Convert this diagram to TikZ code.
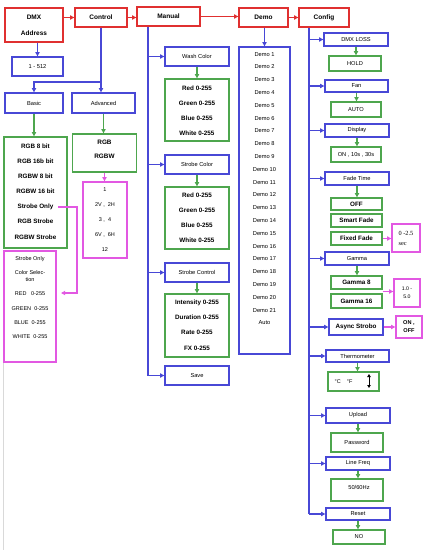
\documentclass[tikz,border=0pt]{standalone}
\usepackage{fontspec}
\setmainfont{Liberation Sans}
\newfontfamily\serifx{Liberation Serif}
\usetikzlibrary{arrows.meta,calc}
\definecolor{cred}{RGB}{224,48,48}
\definecolor{cblue}{RGB}{72,72,214}
\definecolor{cgreen}{RGB}{78,166,78}
\definecolor{cmag}{RGB}{226,88,226}
\newcommand\fs[2]{\fontsize{#1}{#2}\selectfont}
\newcommand\B[6]{\node[#1,minimum width=#5pt,minimum height=#6pt] (#2) at (#3,#4)}
\begin{document}
\begin{tikzpicture}[x=1pt,y=-1pt,
  bx/.style={draw, rectangle, inner sep=0pt, line width=1.35pt, align=center, text=black, font=\fs{5.7}{7}},
  rbox/.style={bx, draw=cred, font=\bfseries\fs{6.5}{16}},
  bbox/.style={bx, draw=cblue},
  gbox/.style={bx, draw=cgreen},
  mbox/.style={bx, draw=cmag},
  boldg/.style={font=\bfseries\fs{6.3}{15.1}},
  txt/.style={inner sep=0pt, align=center, text=black},
  tip/.style={-{Triangle[length=4.2pt,width=4.2pt]}},
  ra/.style={draw=cred, line width=1.3pt, tip},
  ba/.style={draw=cblue, line width=1.3pt, tip},
  bl/.style={draw=cblue, line width=1.3pt},
  ga/.style={draw=cgreen, line width=1.3pt, tip},
  ma/.style={draw=cmag, line width=1.3pt, tip}
]
\useasboundingbox (0,0) rectangle (425,550);
\draw[gray!30, line width=0.5pt] (3,258) -- (3,550);

% top row
\B{rbox}{dmx}{34}{25}{58}{34}{DMX\\Address};
\B{rbox}{control}{101}{17.5}{52}{19}{Control};
\B{rbox}{manual}{168.5}{16.5}{63}{19}{Manual};
\B{rbox}{demo}{263.5}{17.5}{49}{19}{Demo};
\B{rbox}{config}{324}{17.5}{50}{19}{Config};
\draw[ra] (dmx.east |- control.west) -- (control.west);
\draw[ra] (control.east) -- (control.east -| manual.west);
\draw[ra] (manual.east) -- (manual.east -| demo.west);
\draw[ra] (demo.east) -- (config.west);

% DMX / Control branch
\B{bbox}{r512}{37.5}{66.5}{51}{19}{1 - 512};
\draw[ba] (r512.north |- dmx.south) -- (r512.north);
\B{bbox}{basic}{34}{103}{58}{20}{Basic};
\B{bbox}{adv}{103.5}{103}{63}{20}{Advanced};
\coordinate (cj) at (101,82);
\draw[bl] (control.south) -- (cj);
\draw[ba] (cj) -| (basic.north);
\draw[ba] (cj) -- (cj |- adv.north);

\B{gbox}{basicg}{35.5}{192.5}{63}{111}{};
\node[txt, boldg] (basictxt) at (35.5,191.5) {RGB 8 bit\\RGB 16b bit\\RGBW 8 bit\\RGBW 16 bit\\Strobe Only\\RGB Strobe\\RGBW Strobe};
\draw[ga] (basic.south) -- (basic.south |- basicg.north);
\B{gbox}{advg}{104.5}{153}{64}{38}{};
\node[txt, font=\bfseries\fs{6.4}{14.5}] (advtxt) at (104.5,149.5) {RGB\\RGBW};
\draw[ga] (adv.south) -- (adv.south |- advg.north);
\B{mbox}{mag1}{105}{220}{44}{76}{};
\node[txt, font=\fs{5.5}{15}] (mag1txt) at (105,220) {1\\2V ,\ \ 2H\\3 ,\ \ 4\\6V ,\ \ 6H\\12};
\draw[ma] (advg.south) -- (advg.south |- mag1.north);

\B{mbox}{mag2}{30}{306.5}{52}{111}{};
\node[txt, font=\fs{5.5}{7}] (mag2txt) at (30,297.5) {Strobe Only\\[7.6pt]Color Selec-\\tion\\[7.2pt]RED\ \ \ 0-255\\[7.2pt]GREEN\ \ 0-255\\[7.6pt]BLUE\ \ 0-255\\[7.2pt]WHITE\ \ 0-255};
\coordinate (so) at (58,207);
\coordinate (sotip) at (61,293);
\draw[ma] (so) -- (77,207) |- (sotip);

% Manual branch
\coordinate (mx) at (148,0);
\B{bbox}{wash}{197}{56.5}{64}{19}{Wash Color};
\B{bbox}{strc}{197}{164.5}{64}{19}{Strobe Color};
\B{bbox}{strctl}{197}{272.5}{64}{19}{Strobe Control};
\B{bbox}{save}{197}{375.5}{64}{19}{Save};
\draw[bl] (mx |- manual.south) -- (mx |- save.west);
\draw[ba] (mx |- wash.west) -- (wash.west);
\draw[ba] (mx |- strc.west) -- (strc.west);
\draw[ba] (mx |- strctl.west) -- (strctl.west);
\draw[ba] (mx |- save.west) -- (save.west);
\B{gbox}{wg1}{197}{110}{64}{62}{};
\node[txt, font=\bfseries\fs{6.3}{15}] (wg1txt) at (197,110.5) {Red 0-255\\Green 0-255\\Blue 0-255\\White 0-255};
\B{gbox}{wg2}{197}{218}{64}{62}{};
\node[txt, font=\bfseries\fs{6.3}{15}] (wg2txt) at (197,217.5) {Red 0-255\\Green 0-255\\Blue 0-255\\White 0-255};
\B{gbox}{wg3}{197}{325.5}{64}{63}{};
\node[txt, font=\bfseries\fs{6.3}{15.3}] (wg3txt) at (197,325) {Intensity 0-255\\Duration 0-255\\Rate 0-255\\FX 0-255};
\draw[ga] (wash.south) -- (wg1.north);
\draw[ga] (strc.south) -- (wg2.north);
\draw[ga] (strctl.south) -- (wg3.north);

% Demo branch
\B{bbox}{demolist}{264.5}{200.5}{51}{307}{};
\node[txt, font=\fs{5.7}{12.8}] (demotxt) at (264.5,188.5) {Demo 1\\Demo 2\\Demo 3\\Demo 4\\Demo 5\\Demo 6\\Demo 7\\Demo 8\\Demo 9\\Demo 10\\Demo 11\\Demo 12\\Demo 13\\Demo 14\\Demo 15\\Demo 16\\Demo 17\\Demo 18\\Demo 19\\Demo 20\\Demo 21\\Auto};
\draw[ba] (demolist.north |- demo.south) -- (demolist.north);

% Config branch
\coordinate (cx) at (309,0);
\B{bbox}{dmxloss}{356}{39.5}{64}{13}{DMX LOSS};
\B{bbox}{fan}{356.5}{86}{63}{12}{Fan};
\B{bbox}{display}{357}{130.5}{64}{13}{Display};
\B{bbox}{fade}{357}{178.5}{64}{13}{Fade Time};
\B{bbox}{gamma}{357}{258.5}{64}{13}{Gamma};
\node[bx, draw=cblue, minimum width=54pt, minimum height=16pt, font=\bfseries\fs{6.3}{7}] (async) at (356,327) {Async Strobo};
\B{bbox}{thermo}{357.5}{356}{63}{12}{Thermometer};
\B{bbox}{upload}{358}{415.5}{64}{15}{Upload};
\B{bbox}{linefreq}{358}{463.5}{64}{13}{Line Freq};
\B{bbox}{reset}{358}{514}{64}{12}{Reset};
\draw[bl] (cx |- config.south) -- (cx |- reset.west);
\foreach \n in {dmxloss,fan,display,fade,gamma,async,thermo,upload,linefreq,reset}
  \draw[ba] (cx |- \n.west) -- (\n.west);

\B{gbox}{hold}{355}{63.5}{52}{15}{HOLD};
\B{gbox}{auto}{356}{109.5}{50}{15}{AUTO};
\B{gbox}{onsec}{356}{154.5}{50}{15}{ON , 10s , 30s};
\node[bx, draw=cgreen, minimum width=51pt, minimum height=12pt, font=\bfseries\fs{6.3}{7}] (off) at (356.5,204) {OFF};
\node[bx, draw=cgreen, minimum width=51pt, minimum height=13pt, font=\bfseries\fs{6.3}{7}] (smart) at (356.5,220.5) {Smart Fade};
\node[bx, draw=cgreen, minimum width=51pt, minimum height=13pt, font=\bfseries\fs{6.3}{7}] (fixed) at (356.5,238.5) {Fixed Fade};
\node[bx, draw=cgreen, minimum width=51pt, minimum height=13pt, font=\bfseries\fs{6.3}{7}] (g8) at (356.5,282.5) {Gamma 8};
\node[bx, draw=cgreen, minimum width=51pt, minimum height=14pt, font=\bfseries\fs{6.3}{7}] (g16) at (356.5,301) {Gamma 16};
\B{gbox}{cf}{353.5}{381.5}{51}{19}{};
\node[txt, font=\fs{5.5}{7}] (cftxt) at (343.5,382) {°C\ \ \ \ °F};
\coordinate (dt) at (369,374);
\coordinate (db) at (369,388);
\draw[line width=1pt, {Triangle[length=3pt,width=3.4pt]}-{Triangle[length=3pt,width=3.4pt]}] (dt) -- (db);
\B{gbox}{pass}{357}{442.5}{52}{19}{Password};
\B{gbox}{hz}{357}{490}{52}{22}{};
\node[txt, font=\fs{5.7}{7}] (hztxt) at (359,487) {50/60Hz};
\B{gbox}{no}{359}{537}{52}{14}{NO};

\draw[ga] (dmxloss.south) -- (dmxloss.south |- hold.north);
\draw[ga] (fan.south) -- (fan.south |- auto.north);
\draw[ga] (display.south) -- (display.south |- onsec.north);
\draw[ga] (fade.south) -- (fade.south |- off.north);
\draw[ga] (gamma.south) -- (gamma.south |- g8.north);
\draw[ga] (thermo.south) -- (thermo.south |- cf.north);
\draw[ga] (upload.south) -- (upload.south |- pass.north);
\draw[ga] (linefreq.south) -- (linefreq.south |- hz.north);
\draw[ga] (reset.south) -- (reset.south |- no.north);

\node[bx, draw=cmag, minimum width=28pt, minimum height=28pt, font=\serifx\fs{6.3}{10}, align=left] (fadem) at (406,238) {0 -2.5\\sec};
\node[bx, draw=cmag, minimum width=26pt, minimum height=28pt, font=\fs{5.2}{8}] (gamm) at (407,293) {1.0 -\\5.0};
\node[bx, draw=cmag, minimum width=26pt, minimum height=22pt, font=\bfseries\fs{5.6}{8}] (asyncm) at (409,327) {ON ,\\OFF};
\coordinate (gmid) at ($(g8.south east)!0.5!(g16.north east)$);
\draw[ma] (fixed.east) -- (fixed.east -| fadem.west);
\draw[ma] (gmid) -- (gmid -| gamm.west);
\draw[ma] (async.east) -- (async.east -| asyncm.west);
\end{tikzpicture}
\end{document}
